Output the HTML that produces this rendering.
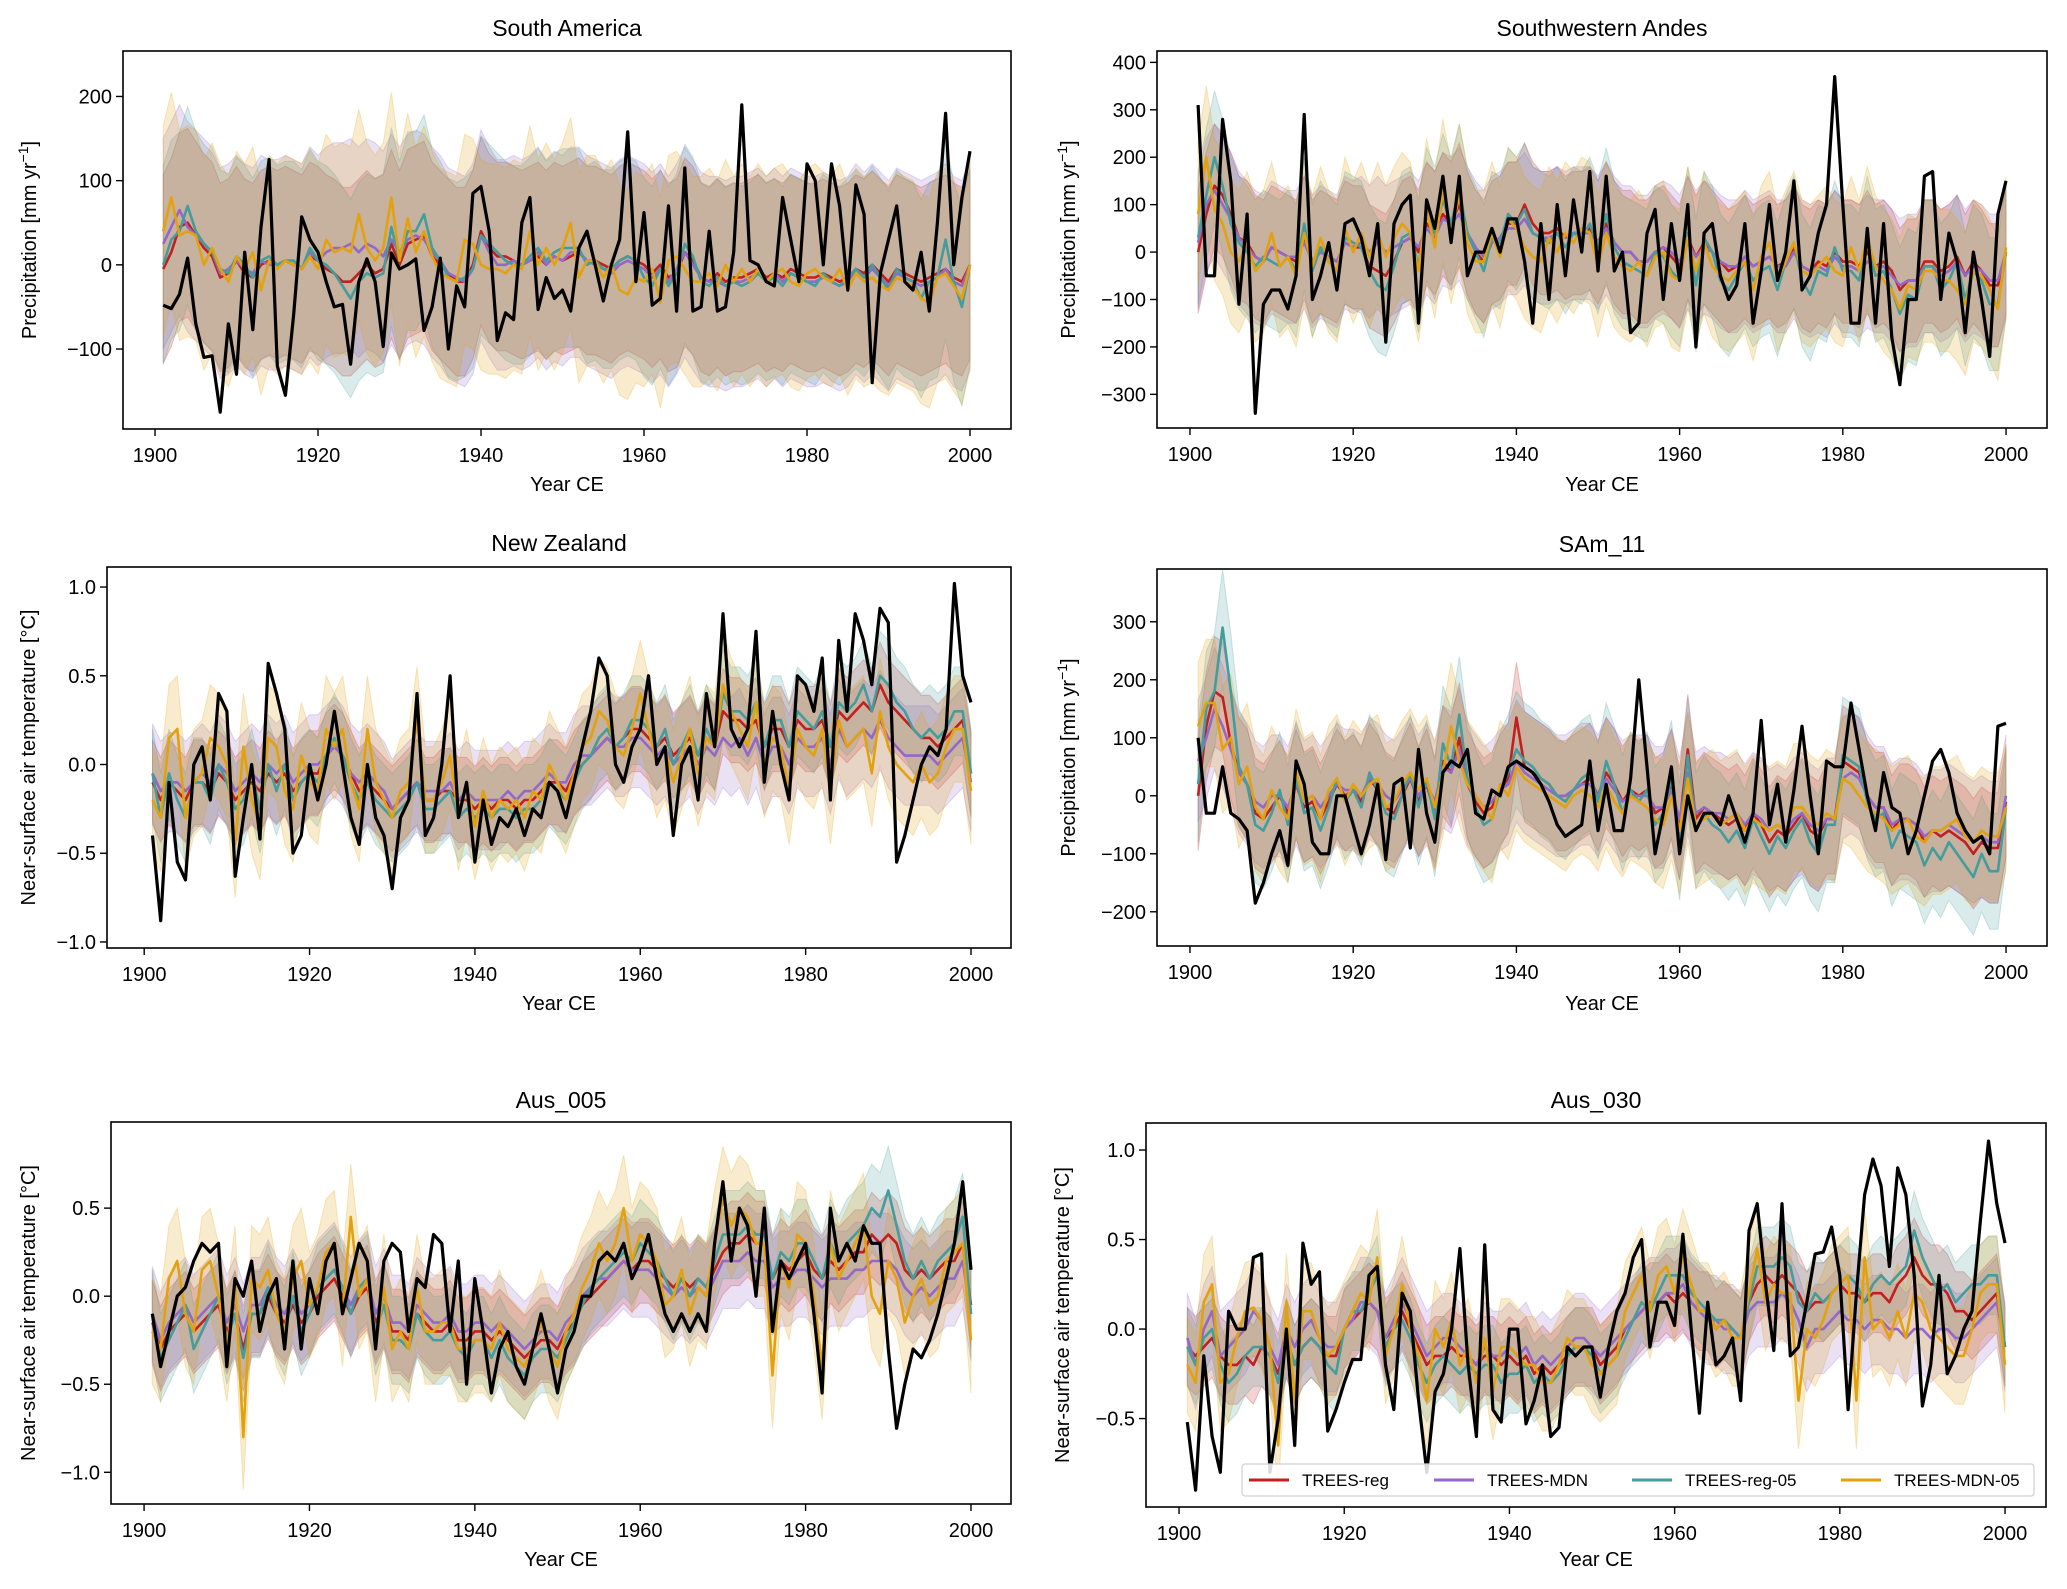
<!DOCTYPE html>
<html><head><meta charset="utf-8"><style>
html,body{margin:0;padding:0;background:#fff;}
svg{display:block;font-family:"Liberation Sans",Arial,sans-serif;}
</style></head><body>
<svg id="fig" width="2067" height="1589" viewBox="0 0 2067 1589"></svg>
<script>
const years0 = 1901;
const xTicks = [1900,1920,1940,1960,1980,2000];
const modelNames = ["TREES-reg","TREES-MDN","TREES-reg-05","TREES-MDN-05"];
const modelColors = ["#c21f1f","#9467c8","#449c9c","#e3a20c"];

// ---- South America
const obs1 = [-48,-52,-35,8,-70,-110,-108,-175,-70,-130,15,-77,45,125,-120,-155,-60,57,30,15,-20,-50,-47,-118,-20,7,-20,-97,14,-5,0,7,-78,-50,8,-100,-25,-50,85,93,40,-90,-57,-65,50,80,-53,-15,-40,-30,-55,20,40,0,-43,0,30,158,-20,62,-48,-40,70,-55,115,-55,-50,40,-55,-50,15,190,5,0,-20,-25,80,30,-20,120,100,0,120,70,-30,95,60,-140,-10,30,70,-20,-30,15,-55,50,180,0,80,135];
const reg1 = [-5,15,45,50,35,20,10,-15,-10,5,-10,-15,0,5,0,5,0,-5,10,5,-5,-10,-20,-20,-10,0,-10,-5,25,0,25,30,35,10,0,-10,-20,-20,0,40,20,10,10,5,0,5,10,0,10,5,10,15,5,5,0,-5,5,10,5,0,-10,0,-15,-10,15,5,-15,-20,-10,-20,-15,-15,-10,-5,-15,-10,-15,-5,-10,-15,-15,-10,-15,-20,-15,-5,-10,0,-10,-20,-5,-10,-15,-20,-15,-10,-5,-15,-20,0];
const mdn1 = [25,45,65,45,35,25,15,-10,-5,5,-5,-10,5,0,0,5,0,-5,15,5,15,20,20,25,15,25,20,10,30,15,30,35,30,15,5,-10,-15,-20,-5,35,15,0,0,5,0,5,15,0,10,5,15,15,5,0,-5,-10,0,5,0,-5,-15,-5,-20,-5,15,0,-15,-20,-20,-25,-20,-20,-15,-10,-20,-10,-20,-10,-15,-20,-20,-15,-20,-25,-20,-5,-15,-5,-15,-25,-10,-15,-20,-25,-20,-15,-5,-20,-25,0];
const reg05_1 = [0,30,40,70,40,25,15,-5,-10,10,0,-15,5,10,0,5,5,-5,20,5,0,-10,-25,-40,-20,-10,-15,-10,45,5,40,40,60,20,5,-15,-20,-15,-5,35,25,15,5,0,0,10,20,5,15,20,20,20,0,5,-5,-5,5,10,5,-15,-25,-5,-25,-10,25,10,-20,-25,-15,-25,-20,-25,-20,-10,-20,-15,-25,-10,-15,-20,-25,-10,-20,-25,-15,-5,-15,0,-15,-30,-5,-15,-20,-40,-20,-15,30,-20,-50,0];
const mdn05_1 = [40,80,35,40,35,0,20,-5,-20,10,-5,15,-30,5,-5,5,0,-5,10,-5,30,15,20,15,60,20,5,20,80,5,55,15,40,10,-10,-15,-20,30,25,0,-5,-5,-10,0,-5,40,0,20,0,20,50,-15,5,5,-15,0,-30,-35,-15,-20,-5,-45,5,10,-5,-20,-20,-10,-25,0,-20,-5,-20,-5,-20,-10,-5,-20,-25,-10,-5,-15,-20,-5,-30,-10,-20,-15,-25,-30,-15,-20,-25,-40,-45,-15,-10,-25,-40,0];
const spread1 = [112,125,118,125];
const yTicks1 = [-100,0,100,200];

// ---- Southwestern Andes
const obs2 = [310,-50,-50,280,150,-110,80,-340,-110,-80,-80,-120,-50,290,-100,-50,20,-80,60,70,30,-50,60,-190,60,100,120,-150,110,50,160,20,160,-50,0,0,50,0,70,70,-20,-150,60,-100,100,-50,110,0,170,-40,160,-40,0,-170,-150,40,90,-100,60,-60,100,-200,40,60,-50,-100,-70,60,-150,-40,100,-60,0,150,-80,-50,40,100,370,100,-150,-150,50,-150,60,-180,-280,-100,-100,160,170,-100,40,-20,-170,0,-100,-220,80,150];
const reg2 = [0,80,140,120,80,30,20,-10,-20,10,0,-10,-20,30,-20,0,-10,-20,20,10,10,-30,-40,-50,-20,20,30,0,60,40,80,60,100,40,0,-20,20,30,60,60,100,60,40,40,50,30,40,40,50,20,60,20,0,0,-20,-20,0,10,-10,-30,30,-10,20,0,-20,-40,-30,-10,-30,-20,-10,-30,-20,10,-30,-40,-20,-30,0,-20,-20,-30,0,-30,-20,-40,-80,-60,-60,-20,-20,-40,-30,-10,-50,-20,-40,-70,-70,0];
const mdn2 = [20,100,130,100,70,30,10,-10,-20,10,0,-10,-10,20,-20,0,-10,-20,20,10,20,0,20,0,10,20,30,10,50,30,70,60,80,40,10,-10,20,30,50,50,70,40,30,30,40,30,40,40,40,20,50,20,0,0,-20,-20,0,10,0,-20,20,-10,10,0,-20,-30,-30,-10,-30,-20,-10,-30,-30,0,-30,-40,-30,-40,-10,-30,-30,-40,-20,-30,-30,-50,-70,-60,-60,-30,-30,-50,-40,-20,-50,-30,-40,-60,-60,0];
const reg05_2 = [30,120,200,140,60,20,0,-30,-10,-20,-30,-10,-40,60,-40,10,-20,-40,30,20,10,-40,-70,-80,-30,30,40,-30,80,40,110,60,130,40,0,-40,30,20,80,60,90,40,30,20,40,10,40,30,60,10,80,10,-20,-30,-40,-50,0,-10,-40,-60,40,-70,30,0,-60,-80,-50,-20,-60,-40,-30,-80,-20,20,-60,-90,-40,-50,10,-40,-40,-60,20,-50,-40,-80,-130,-90,-100,-30,-30,-80,-60,-20,-100,-40,-60,-110,-110,0];
const mdn05_2 = [80,200,90,60,0,-20,20,-40,-20,40,-30,-10,-50,40,-30,30,-20,-40,50,0,40,-10,40,-10,30,60,40,-40,90,10,130,40,120,20,-20,-20,40,-10,70,50,10,-10,-20,30,0,40,20,50,40,-30,40,-10,-30,-40,-20,-50,-10,0,-50,-60,30,-40,20,-30,-50,-60,-40,-20,-80,-10,20,-60,-20,20,-40,-50,-30,-10,-40,-50,10,-40,30,-30,-60,-80,-120,-70,-80,-40,-40,-60,-60,-80,-110,-40,-50,-80,-120,10];
const spread2 = [130,140,140,150];
const yTicks2 = [-300,-200,-100,0,100,200,300,400];

// ---- New Zealand
const obs3 = [-0.4,-0.88,-0.1,-0.55,-0.65,0,0.1,-0.2,0.4,0.3,-0.63,-0.3,0,-0.42,0.57,0.4,0.2,-0.5,-0.4,0,-0.2,0,0.3,0,-0.3,-0.45,0,-0.3,-0.4,-0.7,-0.3,-0.2,0.4,-0.4,-0.3,0,0.5,-0.3,-0.1,-0.55,-0.2,-0.45,-0.3,-0.35,-0.25,-0.4,-0.25,-0.3,-0.1,-0.15,-0.3,-0.1,0.1,0.3,0.6,0.5,0,-0.1,0.1,0.2,0.5,0,0.1,-0.4,0,0.1,-0.2,0.4,0.1,0.85,0.2,0.1,0.2,0.75,-0.1,0.3,0,-0.2,0.5,0.45,0.3,0.6,-0.2,0.7,0.3,0.85,0.7,0.45,0.88,0.8,-0.55,-0.4,-0.2,0,0.1,0.05,0.2,1.02,0.5,0.35];
const reg3 = [-0.1,-0.2,-0.1,-0.15,-0.2,-0.1,-0.1,-0.15,-0.05,-0.1,-0.2,-0.15,-0.1,-0.15,-0.05,-0.1,-0.05,-0.15,-0.1,-0.05,-0.05,0.05,0.1,0.05,-0.05,-0.15,-0.1,-0.15,-0.2,-0.25,-0.2,-0.15,-0.1,-0.2,-0.2,-0.15,-0.15,-0.2,-0.2,-0.25,-0.2,-0.25,-0.2,-0.2,-0.25,-0.2,-0.2,-0.15,-0.1,-0.1,-0.15,-0.05,0,0.05,0.1,0.15,0.1,0.15,0.2,0.2,0.15,0.1,0.15,0.05,0.1,0.15,0.05,0.15,0.1,0.3,0.25,0.25,0.2,0.25,0.1,0.2,0.2,0.1,0.25,0.2,0.2,0.25,0.1,0.3,0.25,0.3,0.35,0.3,0.45,0.35,0.3,0.25,0.2,0.15,0.15,0.1,0.15,0.2,0.25,-0.05];
const mdn3 = [-0.05,-0.15,-0.1,-0.1,-0.15,-0.1,-0.05,-0.1,0,-0.05,-0.15,-0.1,-0.05,-0.1,0,-0.05,0,-0.1,-0.05,0,0,0.05,0.1,0.05,-0.05,-0.1,-0.05,-0.1,-0.15,-0.25,-0.2,-0.15,-0.1,-0.15,-0.15,-0.15,-0.1,-0.2,-0.15,-0.2,-0.2,-0.2,-0.2,-0.15,-0.2,-0.15,-0.15,-0.1,-0.05,-0.1,-0.1,0,0.05,0.05,0.1,0.15,0.1,0.1,0.15,0.15,0.1,0.05,0.1,0,0.05,0.1,0,0.1,0.05,0.15,0.1,0.15,0.05,0.15,0,0.1,0.1,0,0.15,0.1,0.1,0.15,0,0.2,0.1,0.15,0.2,0.15,0.25,0.15,0.1,0.05,0.05,0.05,0.05,0,0.05,0.1,0.15,-0.1];
const reg05_3 = [-0.05,-0.3,-0.05,-0.2,-0.3,-0.1,-0.1,-0.2,0,-0.1,-0.25,-0.2,-0.05,-0.25,0,-0.15,0,-0.2,-0.1,-0.05,-0.1,0.05,0.15,0.05,-0.1,-0.2,-0.1,-0.2,-0.25,-0.3,-0.25,-0.2,-0.1,-0.25,-0.25,-0.2,-0.15,-0.3,-0.25,-0.3,-0.25,-0.3,-0.25,-0.25,-0.3,-0.25,-0.25,-0.2,-0.1,-0.15,-0.2,-0.1,0,0.05,0.15,0.2,0.1,0.15,0.25,0.25,0.2,0.1,0.2,0,0.1,0.2,0.05,0.2,0.1,0.4,0.3,0.3,0.25,0.35,0.1,0.25,0.25,0.1,0.3,0.25,0.2,0.3,0.1,0.35,0.3,0.35,0.45,0.3,0.5,0.45,0.35,0.3,0.2,0.15,0.2,0.15,0.2,0.3,0.3,-0.05];
const mdn05_3 = [-0.2,-0.3,0.15,0.2,-0.3,-0.1,-0.05,0.15,0.1,0,-0.45,0.1,-0.2,-0.35,0.15,0.1,-0.15,-0.25,0.05,-0.1,-0.15,0.2,0.1,0.2,-0.1,-0.25,0.2,-0.1,-0.2,-0.3,-0.15,-0.1,0.25,-0.2,-0.2,-0.1,0.05,-0.3,-0.1,-0.35,-0.15,-0.3,-0.2,-0.25,-0.2,-0.3,-0.15,-0.2,0,-0.1,-0.2,-0.05,0.1,0.15,0.3,0.25,0.1,0.05,0.2,0.4,0.2,0,0.1,-0.1,0.05,0.2,-0.05,0.15,0.1,0.45,0.3,0.2,0.1,0.35,0,0.15,0.1,-0.15,0.2,0.1,0.05,0.2,-0.15,0.25,0.1,0.15,0.2,-0.05,0.3,0.1,0,-0.05,-0.1,0,-0.1,-0.05,0.1,0.2,0.2,-0.15];
const spread3 = [0.24,0.28,0.25,0.3];
const yTicks3 = [-1,-0.5,0,0.5,1];

// ---- SAm_11
const obs4 = [100,-30,-30,50,-30,-40,-60,-185,-150,-100,-60,-120,60,20,-80,-100,-100,0,0,-50,-100,-50,20,-110,20,30,-90,80,-30,-80,40,60,50,80,-30,-40,10,0,50,60,50,40,20,-10,-50,-70,-60,-50,60,-60,20,-60,-60,30,200,50,-100,-30,50,-100,0,-60,-30,-30,-50,0,-40,-80,-30,130,-50,20,-80,10,120,0,-100,60,50,50,160,80,0,-60,40,-20,-30,-100,-60,0,60,80,40,-30,-60,-80,-70,-100,120,125];
const reg4 = [0,120,180,170,90,40,20,-30,-40,-20,0,-30,20,-20,-10,-40,-10,20,0,10,-10,30,10,-20,-30,0,30,-10,20,-30,60,40,100,20,-10,-30,-20,10,30,135,50,40,30,20,0,0,10,20,30,0,40,20,-10,10,0,10,-30,-20,20,-50,80,-40,-20,-30,-40,-50,-40,-60,-30,-50,-80,-60,-70,-50,-30,-60,-70,-40,-40,60,50,40,0,-20,-20,-60,-40,-40,-50,-80,-60,-70,-60,-70,-80,-100,-80,-90,-90,-10];
const mdn4 = [60,100,150,120,80,40,20,-10,-20,0,0,-20,20,-10,0,-20,0,20,10,10,0,30,20,0,-10,10,30,0,20,-10,50,40,80,20,0,-20,-10,10,20,60,40,30,20,10,0,0,10,20,20,0,30,10,-10,0,0,0,-20,-20,10,-40,40,-30,-20,-30,-30,-40,-30,-50,-30,-40,-60,-50,-60,-40,-30,-50,-60,-40,-40,30,40,30,0,-20,-20,-50,-40,-40,-50,-70,-60,-60,-50,-60,-70,-80,-70,-80,-80,0];
const reg05_4 = [20,150,180,290,180,50,20,-50,-60,-30,10,-50,30,-30,-20,-60,-20,30,-10,10,-20,40,10,-30,-40,0,40,-20,30,-40,90,50,140,30,-20,-50,-40,10,40,80,60,50,30,20,0,-10,10,30,40,-10,60,20,-30,10,-10,10,-50,-30,30,-80,70,-60,-30,-50,-60,-80,-60,-90,-40,-70,-100,-70,-90,-60,-40,-80,-100,-50,-50,70,60,50,-10,-40,-30,-90,-60,-70,-80,-120,-90,-110,-80,-100,-120,-140,-100,-130,-130,-20];
const mdn05_4 = [120,160,160,80,100,20,50,-20,-40,10,-20,-40,40,-10,0,-40,10,30,-10,20,0,20,30,-20,-10,20,40,10,30,-20,40,120,60,20,0,-20,-40,20,0,50,30,20,10,0,-10,-20,0,10,0,-20,20,-10,-30,0,-10,-20,-40,-50,0,-60,30,-50,-40,-30,-50,-40,-30,-60,-40,-50,-60,-50,-60,-20,-20,-40,-50,-30,-40,30,20,0,-20,-30,-40,-60,-50,-40,-70,-80,-60,-60,-50,-40,-70,-80,-60,-70,-70,-20];
const spread4 = [95,105,100,110];
const yTicks4 = [-200,-100,0,100,200,300];

// ---- Aus_005
const obs5 = [-0.1,-0.4,-0.2,0,0.05,0.2,0.3,0.25,0.3,-0.4,0.1,0,0.2,-0.2,0,0.1,-0.3,0.2,-0.3,0.1,-0.1,0.2,0.3,-0.1,0.1,0.3,0.2,-0.3,0.2,0.3,0.25,-0.2,0.1,0.05,0.35,0.3,-0.2,0.2,-0.5,0.1,-0.2,-0.55,-0.3,-0.2,-0.4,-0.5,-0.3,-0.1,-0.3,-0.55,-0.3,-0.2,0,0,0.2,0.25,0.2,0.3,0.1,0.2,0.35,0.1,-0.1,-0.2,-0.1,-0.2,-0.1,-0.2,0.3,0.65,0.2,0.5,0.4,0,0.5,-0.2,0.2,0.1,0.2,0.3,-0.1,-0.55,0.5,0.2,0.3,0.2,0.4,0.3,0.3,-0.3,-0.75,-0.5,-0.3,-0.35,-0.25,-0.1,0.1,0.3,0.65,0.15];
const reg5 = [-0.15,-0.3,-0.2,-0.15,-0.1,-0.2,-0.15,-0.1,-0.05,-0.2,-0.1,-0.3,-0.1,-0.1,0,-0.1,-0.15,-0.05,-0.15,-0.1,0,0.05,0.1,0,-0.1,0,0.05,-0.15,-0.05,-0.2,-0.2,-0.25,-0.1,-0.15,-0.2,-0.2,-0.15,-0.25,-0.25,-0.2,-0.2,-0.25,-0.2,-0.25,-0.3,-0.35,-0.3,-0.25,-0.25,-0.3,-0.2,-0.15,-0.05,0,0.05,0.1,0.15,0.2,0.15,0.2,0.2,0.15,0.1,0.05,0.1,0.05,0.1,0.05,0.15,0.25,0.3,0.3,0.35,0.3,0.3,0.1,0.2,0.15,0.2,0.25,0.15,0.1,0.2,0.15,0.2,0.25,0.25,0.35,0.3,0.35,0.3,0.15,0.1,0.15,0.1,0.15,0.2,0.2,0.3,-0.05];
const mdn5 = [-0.1,-0.25,-0.15,-0.1,-0.05,-0.15,-0.1,-0.05,0,-0.15,-0.05,-0.2,-0.05,-0.05,0.05,-0.05,-0.1,0,-0.1,-0.05,0.05,0.1,0.15,0.05,-0.05,0.05,0.1,-0.1,0,-0.15,-0.15,-0.2,-0.05,-0.1,-0.15,-0.15,-0.1,-0.2,-0.2,-0.15,-0.15,-0.2,-0.15,-0.2,-0.25,-0.3,-0.25,-0.2,-0.2,-0.25,-0.15,-0.1,0,0.05,0.1,0.1,0.15,0.2,0.15,0.15,0.15,0.1,0.05,0,0.05,0,0.05,0,0.1,0.2,0.2,0.2,0.25,0.2,0.2,0.05,0.1,0.1,0.15,0.15,0.1,0.05,0.1,0.1,0.1,0.15,0.15,0.2,0.2,0.2,0.15,0.05,0,0.05,0,0.05,0.1,0.1,0.2,-0.1];
const reg05_5 = [-0.1,-0.35,-0.25,-0.15,-0.05,-0.3,-0.2,-0.1,0,-0.25,-0.1,-0.35,-0.1,-0.1,0.05,-0.1,-0.2,0,-0.2,-0.1,0.05,0.1,0.15,0.05,-0.1,0.05,0.1,-0.2,-0.05,-0.25,-0.25,-0.3,-0.1,-0.2,-0.25,-0.25,-0.2,-0.3,-0.35,-0.25,-0.25,-0.35,-0.25,-0.35,-0.4,-0.45,-0.35,-0.3,-0.3,-0.35,-0.25,-0.15,-0.05,0.05,0.1,0.15,0.2,0.25,0.2,0.3,0.25,0.2,0.1,0,0.1,0,0.1,0.05,0.2,0.35,0.35,0.35,0.4,0.35,0.35,0.1,0.25,0.2,0.3,0.3,0.2,0.1,0.3,0.2,0.3,0.35,0.4,0.5,0.45,0.6,0.4,0.2,0.1,0.2,0.1,0.2,0.25,0.3,0.45,-0.1];
const mdn05_5 = [-0.2,-0.3,0.1,0.2,-0.1,-0.2,0.15,0.2,0,-0.3,0.1,-0.8,0.1,0.05,0.15,-0.1,-0.2,0.1,0.2,-0.05,0.05,0.25,0.3,-0.1,0.45,0,0.1,-0.3,0.05,-0.3,-0.2,-0.3,0.05,-0.2,-0.2,-0.15,-0.15,-0.3,-0.3,-0.25,-0.25,-0.3,-0.15,-0.3,-0.35,-0.4,-0.3,-0.15,-0.3,-0.4,-0.2,-0.1,0.05,0.15,0.3,0.2,0.3,0.5,0.2,0.35,0.3,0.2,-0.05,0,0.15,-0.1,0.05,0,0.3,0.55,0.4,0.5,0.45,0.3,0.3,-0.45,0.2,0.05,0.35,0.3,0,-0.4,0.3,0.1,0.2,0.3,0.4,0,-0.1,0.2,0.1,-0.15,0,0.1,-0.05,0,0.2,0.25,0.3,-0.25];
const spread5 = [0.24,0.27,0.25,0.3];
const yTicks5 = [-1,-0.5,0,0.5];

// ---- Aus_030
const obs6 = [-0.52,-0.9,-0.15,-0.6,-0.8,0.1,0,0,0.4,0.42,-0.8,-0.5,0,-0.65,0.48,0.25,0.32,-0.57,-0.45,-0.3,-0.17,-0.17,0.3,0.35,-0.2,-0.45,0.2,0.1,-0.4,-0.8,-0.35,-0.25,0,0.45,-0.2,-0.6,0.47,-0.45,-0.52,0,0,-0.53,-0.4,-0.2,-0.6,-0.55,-0.1,-0.15,-0.1,-0.1,-0.38,-0.1,0.1,0.2,0.4,0.5,-0.1,0.15,0.15,0.02,0.53,0,-0.47,0.15,-0.2,-0.15,-0.05,-0.4,0.55,0.7,0.25,-0.12,0.7,-0.15,-0.1,0.15,0.42,0.43,0.57,0.3,-0.45,0.2,0.75,0.95,0.8,0.35,0.9,0.75,0.3,-0.43,-0.2,0.3,-0.25,-0.15,0,0.1,0.6,1.05,0.7,0.48];
const reg6 = [-0.1,-0.15,-0.1,-0.05,-0.15,-0.2,-0.2,-0.15,-0.2,-0.1,-0.15,-0.25,-0.05,-0.2,-0.1,-0.05,-0.1,-0.15,-0.15,0,0.05,0.1,0.15,0.1,-0.05,0,0.1,0,-0.1,-0.2,-0.15,-0.15,-0.1,-0.15,-0.15,-0.2,-0.15,-0.15,-0.2,-0.15,-0.2,-0.15,-0.25,-0.2,-0.25,-0.2,-0.15,-0.1,-0.1,-0.1,-0.2,-0.15,-0.1,0,0.05,0.1,0.15,0.15,0.2,0.15,0.2,0.15,0.1,0.1,0,0.05,0,-0.05,0.15,0.25,0.3,0.25,0.3,0.25,0.2,0.1,0.15,0.15,0.2,0.25,0.2,0.2,0.15,0.2,0.2,0.15,0.25,0.3,0.4,0.3,0.25,0.25,0.2,0.1,0.1,0.05,0.1,0.15,0.2,-0.1];
const mdn6 = [-0.05,-0.2,0,0.1,-0.15,-0.1,-0.05,0,0.1,0.05,-0.1,-0.2,0,-0.1,0,0.05,-0.05,-0.1,-0.1,0,0.05,0.15,0.15,0.1,-0.05,0.05,0.15,0.05,-0.05,-0.15,-0.1,-0.05,-0.05,-0.1,-0.15,-0.2,-0.1,-0.15,-0.15,-0.1,-0.15,-0.1,-0.2,-0.15,-0.2,-0.15,-0.1,-0.05,-0.05,-0.1,-0.15,-0.1,-0.05,0,0.05,0.1,0.15,0.15,0.2,0.2,0.25,0.15,0.1,0.05,0.05,0,0,-0.05,0.1,0.15,0.15,0.15,0.2,0.15,0.05,-0.1,0,0,0.05,0.1,0.05,0.05,0,0.05,0.05,0,0,-0.05,0,0,-0.05,0,0,-0.05,-0.05,0,0.05,0.1,0.15,-0.1];
const reg05_6 = [-0.1,-0.2,-0.05,0,-0.2,-0.3,-0.25,-0.15,-0.1,-0.1,-0.15,-0.3,-0.05,-0.2,-0.1,-0.05,-0.1,-0.2,-0.25,0,0.1,0.1,0.2,0.3,-0.1,0,0.05,-0.05,-0.2,-0.3,-0.2,-0.15,-0.2,-0.25,-0.2,-0.25,-0.2,-0.2,-0.3,-0.25,-0.25,-0.2,-0.3,-0.25,-0.3,-0.25,-0.15,-0.1,-0.1,-0.15,-0.25,-0.2,-0.15,-0.05,0.05,0.15,0.1,0.2,0.3,0.3,0.3,0.2,0.15,0.1,0.05,0.05,0,-0.05,0.15,0.35,0.35,0.35,0.4,0.35,0.15,0.1,0.2,0.15,0.2,0.25,0.3,0.25,0.15,0.25,0.3,0.25,0.3,0.35,0.55,0.4,0.3,0.2,0.25,0.15,0.2,0.25,0.25,0.3,0.3,-0.1];
const mdn05_6 = [-0.2,-0.3,0.15,0.25,-0.3,-0.25,-0.05,0.1,0.12,0.05,-0.1,-0.65,0.15,-0.4,0.1,0.1,-0.05,-0.15,-0.1,0,0.1,0.2,0.15,0.4,-0.15,0,0.25,0,-0.15,-0.4,0,-0.1,0.05,-0.2,-0.1,-0.3,-0.05,-0.35,-0.1,-0.1,-0.15,-0.2,-0.2,-0.3,-0.3,-0.2,-0.05,-0.1,-0.1,-0.2,-0.25,-0.2,-0.15,0.1,0.2,0.3,0.1,0.3,0.35,0.2,0.4,0.25,0.1,0.1,0,0.05,-0.05,-0.05,0.2,0.45,0.15,0.25,0.2,0.2,-0.4,0,-0.05,0.05,0.2,0.25,0.3,-0.4,0.4,0,0.05,-0.05,0.1,-0.05,0.2,0.15,0,-0.05,-0.1,-0.15,-0.15,0,0.2,0.25,0.25,-0.2];
const spread6 = [0.22,0.25,0.22,0.27];
const yTicks6 = [-0.5,0,0.5,1];

const NS = "http://www.w3.org/2000/svg";
const svg = document.getElementById("fig");
function mk(tag, parent, attrs){
  const e = document.createElementNS(NS, tag);
  for (const k in attrs) e.setAttribute(k, attrs[k]);
  parent.appendChild(e);
  return e;
}
function fmt(v, dec){
  const s = Math.abs(v).toFixed(dec);
  return (v < 0 ? "\u2212" : "") + s;
}

const panels = [
  {key:"south-america", title:"South America", box:[123,51,1011,429], xd:[1896.07,2005.03], yd:[-195,254], ticks:yTicks1, dec:0, precip:true, obs:obs1, models:[reg1,mdn1,reg05_1,mdn05_1], spread:spread1, ylabX:29, titleY:28, xlabY:484},
  {key:"southwestern-andes", title:"Southwestern Andes", box:[1157,51,2047,428], xd:[1895.96,2005.02], yd:[-371,424], ticks:yTicks2, dec:0, precip:true, obs:obs2, models:[reg2,mdn2,reg05_2,mdn05_2], spread:spread2, ylabX:1068, titleY:28, xlabY:484},
  {key:"new-zealand", title:"New Zealand", box:[107,567,1011,948], xd:[1895.5,2004.84], yd:[-1.034,1.113], ticks:yTicks3, dec:1, precip:false, obs:obs3, models:[reg3,mdn3,reg05_3,mdn05_3], spread:spread3, ylabX:28, titleY:543, xlabY:1003},
  {key:"sam-11", title:"SAm_11", box:[1157,569,2047,946], xd:[1895.96,2005.02], yd:[-259,391], ticks:yTicks4, dec:0, precip:true, obs:obs4, models:[reg4,mdn4,reg05_4,mdn05_4], spread:spread4, ylabX:1068, titleY:544, xlabY:1003},
  {key:"aus-005", title:"Aus_005", box:[111,1122,1011,1504], xd:[1896.0,2004.84], yd:[-1.18,0.989], ticks:yTicks5, dec:1, precip:false, obs:obs5, models:[reg5,mdn5,reg05_5,mdn05_5], spread:spread5, ylabX:28, titleY:1100, xlabY:1559},
  {key:"aus-030", title:"Aus_030", box:[1146,1123,2046,1507], xd:[1896.0,2004.96], yd:[-0.994,1.151], ticks:yTicks6, dec:1, precip:false, obs:obs6, models:[reg6,mdn6,reg05_6,mdn05_6], spread:spread6, ylabX:1062, titleY:1100, xlabY:1559, legend:true}
];

let clipId = 0;
panels.forEach(p => {
  const [x0,y0,x1,y1] = p.box;
  const X = yr => x0 + (yr - p.xd[0]) / (p.xd[1]-p.xd[0]) * (x1-x0);
  const Y = v => y1 - (v - p.yd[0]) / (p.yd[1]-p.yd[0]) * (y1-y0);
  const g = mk("g", svg, {});
  
  

  clipId++;
  const cp = mk("clipPath", g, {id:"clip"+clipId});
  mk("rect", cp, {x:x0, y:y0, width:x1-x0, height:y1-y0});
  const plot = mk("g", g, {"clip-path":"url(#clip"+clipId+")"});

  // bands
  p.models.forEach((arr, m) => {
    let up = "", lo = "";
    arr.forEach((v,i) => { up += (i?"L":"M") + X(years0+i).toFixed(1) + "," + Y(v + p.spread[m]).toFixed(1); });
    for (let i = arr.length-1; i >= 0; i--) lo += "L" + X(years0+i).toFixed(1) + "," + Y(arr[i] - p.spread[m]).toFixed(1);
    const band = mk("path", plot, {d: up + lo + "Z", fill: modelColors[m], "fill-opacity": 0.2, stroke: modelColors[m], "stroke-opacity":0.25, "stroke-width":1});
    
    
  });
  // model lines
  p.models.forEach((arr, m) => {
    let d = "";
    arr.forEach((v,i) => { d += (i?"L":"M") + X(years0+i).toFixed(1) + "," + Y(v).toFixed(1); });
    const ln = mk("path", plot, {d, fill:"none", stroke: modelColors[m], "stroke-width":2.6, "stroke-linejoin":"round"});
    
    
  });
  // observations
  let d = "";
  p.obs.forEach((v,i) => { d += (i?"L":"M") + X(years0+i).toFixed(1) + "," + Y(v).toFixed(1); });
  const ob = mk("path", plot, {d, fill:"none", stroke:"#000", "stroke-width":3.2, "stroke-linejoin":"round"});
  
  

  // frame
  const fr = mk("rect", g, {x:x0, y:y0, width:x1-x0, height:y1-y0, fill:"none", stroke:"#000", "stroke-width":1.6});
  
  

  // x ticks
  xTicks.forEach(t => {
    const xx = X(t);
    mk("line", g, {x1:xx, x2:xx, y1:y1, y2:y1+7, stroke:"#000", "stroke-width":1.4});
    const tl = mk("text", g, {x:xx, y:y1+33, "text-anchor":"middle", "font-size":20, fill:"#000"});
    tl.textContent = t;
    
    
  });
  // y ticks
  p.ticks.forEach(t => {
    const yy = Y(t);
    mk("line", g, {x1:x0-7, x2:x0, y1:yy, y2:yy, stroke:"#000", "stroke-width":1.4});
    const tl = mk("text", g, {x:x0-11, y:yy+7, "text-anchor":"end", "font-size":20, fill:"#000"});
    tl.textContent = fmt(t, p.dec);
    
    
  });
  // title
  const ti = mk("text", g, {x:(x0+x1)/2, y:p.titleY+8, "text-anchor":"middle", "font-size":23, fill:"#000"});
  ti.textContent = p.title;
  
  
  // x label
  const xl = mk("text", g, {x:(x0+x1)/2, y:p.xlabY+7, "text-anchor":"middle", "font-size":20, fill:"#000"});
  xl.textContent = "Year CE";
  
  
  // y label
  const cy = (y0+y1)/2;
  const yl = mk("text", g, {x:p.ylabX, y:cy, "text-anchor":"middle", "font-size":20, fill:"#000", transform:"rotate(-90 "+p.ylabX+" "+cy+")", dy:"0.35em"});
  
  
  if (p.precip) {
    const a = mk("tspan", yl, {}); a.textContent = "Precipitation [mm yr";
    const b = mk("tspan", yl, {dy:-8, "font-size":14}); b.textContent = "\u22121";
    const c = mk("tspan", yl, {dy:8}); c.textContent = "]";
  } else {
    yl.textContent = "Near-surface air temperature [\u00B0C]";
  }

  if (p.legend) {
    const lg = mk("g", g, {});
    
    
    mk("rect", lg, {x:1242, y:1464, width:792, height:32, rx:3, fill:"#fff", "fill-opacity":0.85, stroke:"#d0d0d0", "stroke-width":1.2});
    const lx = [1249,1434,1632,1841];
    modelNames.forEach((n, m) => {
      const e = mk("g", lg, {});
      
      
      mk("line", e, {x1:lx[m], x2:lx[m]+40, y1:1480, y2:1480, stroke:modelColors[m], "stroke-width":3});
      const t = mk("text", e, {x:lx[m]+53, y:1486, "font-size":17, fill:"#000"});
      t.textContent = n;
    });
  }
});
</script>
</body></html>
